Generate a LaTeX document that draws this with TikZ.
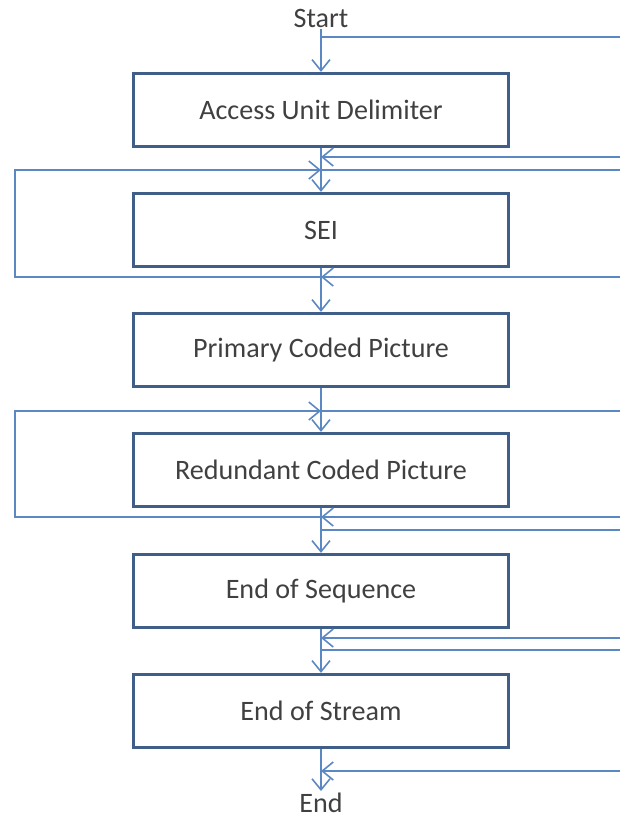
\documentclass[tikz,border=0pt]{standalone}
\usepackage{fontspec}
\setmainfont{Carlito}
\usetikzlibrary{arrows.meta}
\definecolor{boxblue}{HTML}{3F5E88}
\definecolor{lineblue}{HTML}{5B87C2}
\definecolor{txtgray}{HTML}{404040}

\begin{document}
\begin{tikzpicture}[x=0.02cm,y=-0.02cm]
\tikzstyle{every node}=[text=txtgray,font=\fontsize{16}{19}\selectfont];
\tikzstyle{unit}=[draw=boxblue,line width=1.9pt,minimum width=7.5cm,minimum height=1.46cm,inner sep=0pt];
\tikzstyle{term}=[inner sep=1pt];
\tikzstyle{flow}=[draw=lineblue,line width=0.9pt];
\tikzstyle{arr}=[flow,-{Straight Barb[length=0.22cm,width=0.36cm]}];
\useasboundingbox (0,0) rectangle (620,818);

\node[term] (start) at (321,18) {Start};
\node[unit] (aud) at (321,110) {Access Unit Delimiter};
\node[unit] (sei) at (321,230) {SEI};
\node[unit] (pcp) at (321,350) {Primary Coded Picture};
\node[unit] (rcp) at (321,470) {Redundant Coded Picture};
\node[unit] (eoseq) at (321,591) {End of Sequence};
\node[unit] (eostr) at (321,711) {End of Stream};
\node[term] (end) at (321,803) {End};

% junctions on the main line
\coordinate (j1) at (321,37);
\coordinate (j2) at (321,157);
\coordinate (j3) at (321,170);
\coordinate (j4) at (321,277);
\coordinate (j5) at (321,411);
\coordinate (j6) at (321,517);
\coordinate (j7) at (321,530);
\coordinate (j8) at (321,638);
\coordinate (j9) at (321,650);
\coordinate (j10) at (321,771);
% right edge
\coordinate (r1) at (620,37);
\coordinate (r2) at (620,157);
\coordinate (r3) at (620,170);
\coordinate (r4) at (620,277);
\coordinate (r5) at (620,411);
\coordinate (r6) at (620,517);
\coordinate (r7) at (620,530);
\coordinate (r8) at (620,638);
\coordinate (r9) at (620,650);
\coordinate (r10) at (620,771);
% left loops
\coordinate (l1) at (15,277);
\coordinate (l2) at (15,170);
\coordinate (l3) at (15,517);
\coordinate (l4) at (15,411);

\draw[arr] (start) -- (aud);
\draw[flow] (j1) -- (r1);
\draw[arr] (aud) -- (sei);
\draw[arr] (r2) -- (j2);
\draw[arr] (j4) -- (l1) -- (l2) -- (j3);
\draw[flow] (j3) -- (r3);
\draw[arr] (r4) -- (j4);
\draw[arr] (sei) -- (pcp);
\draw[arr] (pcp) -- (rcp);
\draw[arr] (j6) -- (l3) -- (l4) -- (j5);
\draw[flow] (j5) -- (r5);
\draw[arr] (r6) -- (j6);
\draw[arr] (rcp) -- (eoseq);
\draw[flow] (j7) -- (r7);
\draw[arr] (eoseq) -- (eostr);
\draw[arr] (r8) -- (j8);
\draw[flow] (j9) -- (r9);
\draw[arr] (eostr) -- (end);
\draw[arr] (r10) -- (j10);
\end{tikzpicture}
\end{document}
